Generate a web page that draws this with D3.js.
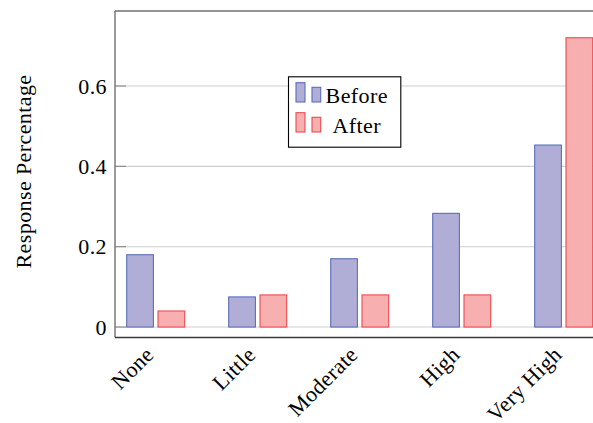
<!DOCTYPE html>
<html>
<head>
<meta charset="utf-8">
<script src="https://cdn.jsdelivr.net/npm/d3@7"></script>
<style>
  html, body { margin: 0; padding: 0; background: #fff; }
  svg { display: block; }
  text { font-family: "Liberation Serif", "Times New Roman", serif; fill: #000; }
</style>
</head>
<body>
<svg id="chart" width="593" height="423"></svg>
<script>
const categories = ["None", "Little", "Moderate", "High", "Very High"];
const before = [0.18, 0.075, 0.17, 0.283, 0.453];
const after = [0.04, 0.08, 0.08, 0.08, 0.72];
const yTicks = [0, 0.2, 0.4, 0.6];
const seriesNames = ["Before", "After"];

const W = 593, H = 423;
const frame = { left: 115, top: 11, right: 604, bottom: 337.5 };
const svg = d3.select("#chart");
const FS = 22, LS = 0.4;

const y = d3.scaleLinear().domain([-0.026, 0.7866]).range([frame.bottom, frame.top]);
const x = d3.scalePoint().domain(categories).range([155.5, 563.5]);

const styles = [
  { fill: "#b0aed7", stroke: "#5a6fb8" },
  { fill: "#f7afaf", stroke: "#ee4a4f" }
];

// grid lines
svg.append("g").selectAll("line").data(yTicks).join("line")
  .attr("x1", frame.left).attr("x2", frame.right)
  .attr("y1", d => y(d)).attr("y2", d => y(d))
  .attr("stroke", "#cfcfcf").attr("stroke-width", 1.1);

// bars
const barW = 26.7;
const offsets = [-28.8, 2.5];
[before, after].forEach((vals, s) => {
  svg.append("g").selectAll("rect").data(vals).join("rect")
    .attr("x", (d, i) => x(categories[i]) + offsets[s])
    .attr("y", d => y(d))
    .attr("width", barW)
    .attr("height", d => y(0) - y(d))
    .attr("fill", styles[s].fill)
    .attr("stroke", styles[s].stroke)
    .attr("stroke-width", 1.1);
});

// y axis with inner ticks
const yAxis = d3.axisLeft(y).tickValues(yTicks).tickSize(0).tickPadding(8)
  .tickFormat(d => d === 0 ? "0" : d3.format(".1f")(d));
const gy = svg.append("g").attr("transform", `translate(${frame.left},0)`).call(yAxis);
gy.select(".domain").remove();
gy.selectAll("text").attr("font-size", FS).attr("letter-spacing", LS)
  .attr("font-family", "Liberation Serif, serif").attr("fill", "#000");
svg.append("g").selectAll("line").data(yTicks).join("line")
  .attr("x1", frame.left).attr("x2", frame.left + 11)
  .attr("y1", d => y(d)).attr("y2", d => y(d))
  .attr("stroke", "#888").attr("stroke-width", 1.1);

// frame
svg.append("line").attr("x1", frame.left).attr("x2", frame.left).attr("y1", frame.top).attr("y2", frame.bottom)
  .attr("stroke", "#707070").attr("stroke-width", 1.4);
svg.append("line").attr("x1", frame.left).attr("x2", frame.right).attr("y1", frame.top).attr("y2", frame.top)
  .attr("stroke", "#707070").attr("stroke-width", 1.4);
svg.append("line").attr("x1", frame.left).attr("x2", frame.right).attr("y1", frame.bottom).attr("y2", frame.bottom)
  .attr("stroke", "#3a3a3a").attr("stroke-width", 1.4);

// x axis labels
const xAxis = d3.axisBottom(x).tickSize(0).tickPadding(0);
const gx = svg.append("g").attr("transform", `translate(0,${frame.bottom})`).call(xAxis);
gx.select(".domain").remove();
gx.selectAll("text")
  .attr("font-size", FS).attr("letter-spacing", LS)
  .attr("font-family", "Liberation Serif, serif").attr("fill", "#000")
  .attr("text-anchor", "end").attr("dy", 0).attr("y", 0)
  .attr("transform", "translate(-1,18.5) rotate(-45)");

// y label
svg.append("text")
  .attr("transform", "translate(31,171.5) rotate(-90)")
  .attr("text-anchor", "middle").attr("font-size", FS).attr("letter-spacing", LS)
  .text("Response Percentage");

// legend
const lg = svg.append("g");
lg.append("rect").attr("x", 288.5).attr("y", 76.8).attr("width", 112.3).attr("height", 70.4)
  .attr("fill", "#fff").attr("stroke", "#000").attr("stroke-width", 1.1);
seriesNames.forEach((name, s) => {
  const by = 102 + s * 30;
  lg.append("rect").attr("x", 296).attr("y", by - 19.3).attr("width", 9).attr("height", 19.3)
    .attr("fill", styles[s].fill).attr("stroke", styles[s].stroke).attr("stroke-width", 1.1);
  lg.append("rect").attr("x", 312).attr("y", by - 14.7).attr("width", 8.7).attr("height", 14.7)
    .attr("fill", styles[s].fill).attr("stroke", styles[s].stroke).attr("stroke-width", 1.1);
  lg.append("text").attr("x", 356.7).attr("y", by + 1.3).attr("text-anchor", "middle")
    .attr("font-size", FS).attr("letter-spacing", LS).text(name);
});
</script>
</body>
</html>
